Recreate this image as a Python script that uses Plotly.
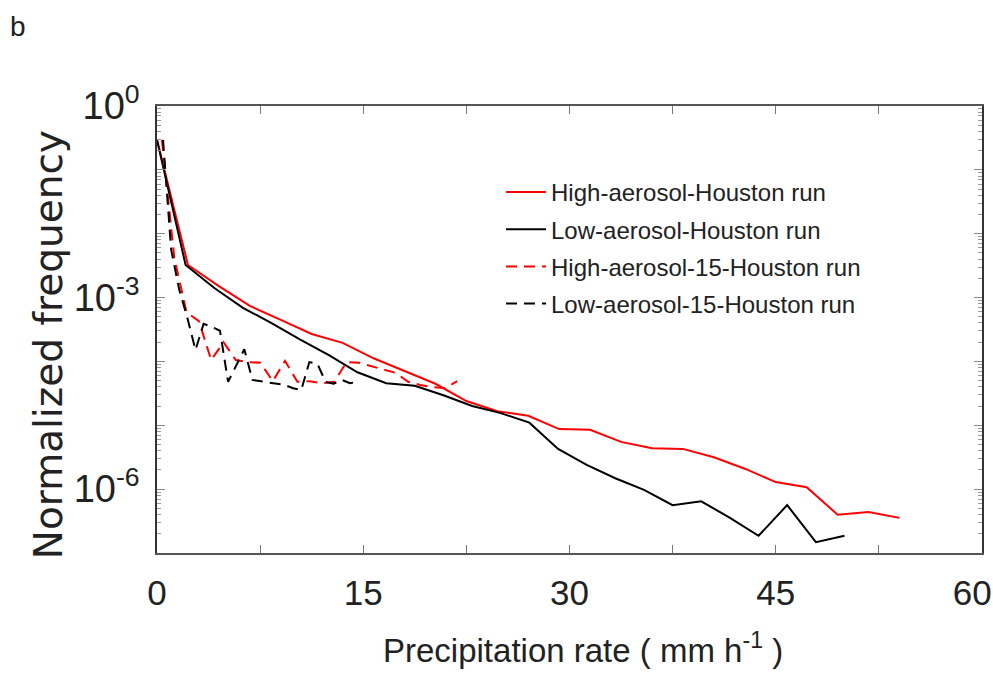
import plotly.graph_objects as go

# Precipitation-rate bins (mm h^-1) for each run
x_high = [i * 2.25 for i in range(25)]
x_low = [0, 2.08, 4.17, 6.25, 8.33, 10.42, 12.5, 14.58, 16.67, 18.75, 20.83, 22.92,
         25.0, 27.08, 29.17, 31.25, 33.33, 35.42, 37.5, 39.58, 41.67, 43.75, 45.83, 47.92, 50.0]
x_high15 = [0.36, 1.26, 2.15, 3.05, 3.94, 4.84, 5.73, 6.63, 7.52, 8.42, 9.31, 10.21, 11.1,
            12.0, 12.89, 13.79, 14.68, 15.58, 16.47, 17.37, 18.26, 19.16, 20.05, 20.95, 21.84]
x_low15 = [0.44, 1.03, 1.62, 2.21, 2.80, 3.39, 3.99, 4.58, 5.17, 5.76, 6.35, 6.94, 7.53,
           8.12, 8.71, 9.30, 9.90, 10.49, 11.08, 11.67, 12.26, 12.85, 13.44, 14.03, 14.62]

# Normalized frequency for each run
f_high = [0.295, 3.24e-3, 1.51e-3, 7.41e-4, 4.47e-4, 2.69e-4, 1.95e-4, 1.12e-4, 7.08e-5,
          4.47e-5, 2.40e-5, 1.66e-5, 1.41e-5, 8.71e-6, 8.51e-6, 5.50e-6, 4.37e-6, 4.27e-6,
          3.16e-6, 2.09e-6, 1.29e-6, 1.07e-6, 3.98e-7, 4.37e-7, 3.55e-7]
f_low = [0.295, 3.24e-3, 1.41e-3, 6.92e-4, 3.98e-4, 2.19e-4, 1.26e-4, 6.76e-5, 4.57e-5,
         4.17e-5, 2.95e-5, 2.00e-5, 1.55e-5, 1.10e-5, 4.27e-6, 2.40e-6, 1.48e-6, 9.77e-7,
         5.62e-7, 6.46e-7, 3.55e-7, 1.86e-7, 5.62e-7, 1.48e-7, 1.86e-7]
f_high15 = [0.295, 4.17e-3, 5.89e-4, 4.27e-4, 1.05e-4, 2.00e-4, 1.05e-4, 9.77e-5, 9.55e-5,
            4.90e-5, 1.02e-4, 4.79e-5, 4.90e-5, 4.57e-5, 4.79e-5, 9.77e-5, 9.55e-5, 8.51e-5,
            7.41e-5, 6.61e-5, 4.79e-5, 4.27e-5, 3.98e-5, 3.80e-5, 4.90e-5]
f_low15 = [0.295, 5.62e-3, 1.32e-3, 4.79e-4, 1.51e-4, 3.89e-4, 3.47e-4, 3.02e-4, 4.79e-5,
           8.71e-5, 1.55e-4, 5.13e-5, 4.90e-5, 4.79e-5, 4.57e-5, 4.27e-5, 3.80e-5, 3.55e-5,
           9.77e-5, 9.12e-5, 4.79e-5, 4.47e-5, 5.13e-5, 4.57e-5, 4.79e-5]

series_names = ["High-aerosol-Houston run", "Low-aerosol-Houston run",
                "High-aerosol-15-Houston run", "Low-aerosol-15-Houston run"]

# Axis ticks (the last label is padded so it stays inside the page edge)
x_tickvals = [0, 15, 30, 45, 60]
x_ticktext = ["0", "15", "30", "45", "60\u00a0\u00a0"]
y_label_decades = [-6, -3, 0]
y_ticktext = ["10<sup>-6</sup>", "10<sup>-3</sup>", "10<sup>0</sup>"]
y_plain_decades = [-7, -5, -4, -2, -1]

FONT = "Liberation Sans, Arial, sans-serif"

fig = go.Figure()
styles = [("#ff0000", "solid"), ("#000000", "solid"),
          ("#ff0000", "11px,7px"), ("#000000", "11px,7px")]
data = [(x_high, f_high), (x_low, f_low), (x_high15, f_high15), (x_low15, f_low15)]
for name, (xs, ys), (col, dash) in zip(series_names, data, styles):
    fig.add_trace(go.Scatter(
        x=xs, y=ys, mode="lines", name=name, legendgroup=name,
        line=dict(color=col, width=2, dash=dash),
    ))

# placeholder trace so the unlabeled-decade tick axis gets drawn
fig.add_trace(go.Scatter(x=[None], y=[None], yaxis="y2", showlegend=False,
                         hoverinfo="skip", mode="lines"))

minor_vals = [m * 10.0 ** d for d in range(-7, 0) for m in range(2, 10)]

fig.update_layout(
    width=993, height=674,
    margin=dict(l=157, r=11, t=106, b=121),
    paper_bgcolor="white", plot_bgcolor="white",
    showlegend=True,
    legend=dict(
        x=0.417, y=0.857, xanchor="left", yanchor="top",
        bgcolor="rgba(0,0,0,0)", borderwidth=0,
        font=dict(family=FONT, size=24, color="#222"),
        tracegroupgap=3, itemwidth=40,
    ),
    xaxis=dict(
        range=[0, 60], tickmode="array", tickvals=x_tickvals, ticktext=x_ticktext,
        ticks="inside", ticklen=8, tickwidth=1, tickcolor="#777",
        showline=True, linecolor="#555", linewidth=1.5, mirror="ticks",
        showgrid=False, zeroline=False, automargin=False,
        tickfont=dict(family=FONT, size=35, color="#222"),
        ticklabelstandoff=8, ticklabeloverflow="allow",
        minor=dict(tickmode="linear", tick0=0, dtick=7.5, ticks="inside",
                   ticklen=8, tickwidth=1, tickcolor="#777", showgrid=False),
    ),
    yaxis=dict(
        type="log", range=[-7, 0], tickmode="array",
        tickvals=[10.0 ** d for d in y_label_decades], ticktext=y_ticktext,
        ticks="inside", ticklen=8, tickwidth=1, tickcolor="#888",
        showline=True, linecolor="#333", linewidth=1.5, mirror="ticks",
        showgrid=False, zeroline=False, automargin=False,
        tickfont=dict(family=FONT, size=38, color="#222"),
        ticklabelstandoff=8, ticklabeloverflow="allow",
        minor=dict(tickmode="array", tickvals=minor_vals, ticks="inside",
                   ticklen=4, tickwidth=1, tickcolor="#999", showgrid=False),
    ),
    yaxis2=dict(
        type="log", range=[-7, 0], overlaying="y", side="left",
        tickmode="array", tickvals=[10.0 ** d for d in y_plain_decades],
        ticks="inside", ticklen=8, tickwidth=1, tickcolor="#888",
        showticklabels=False, showline=False, mirror="ticks",
        showgrid=False, zeroline=False, automargin=False,
    ),
    annotations=[
        dict(text="b", xref="paper", yref="paper", x=-0.169, y=1.177,
             xanchor="center", yanchor="middle", showarrow=False,
             font=dict(family=FONT, size=28, color="#222")),
        dict(text="Precipitation rate ( mm h<sup>-1</sup> )", xref="paper", yref="paper",
             x=0.516, y=-0.212, xanchor="center", yanchor="middle", showarrow=False,
             font=dict(family=FONT, size=33, color="#222")),
        dict(text="Normalized frequency", xref="paper", yref="paper",
             x=-0.132, y=0.465, xanchor="center", yanchor="middle", showarrow=False,
             textangle=-90,
             font=dict(family="DejaVu Sans, sans-serif", size=39, color="#222")),
    ],
)

fig.write_html("out.html")
